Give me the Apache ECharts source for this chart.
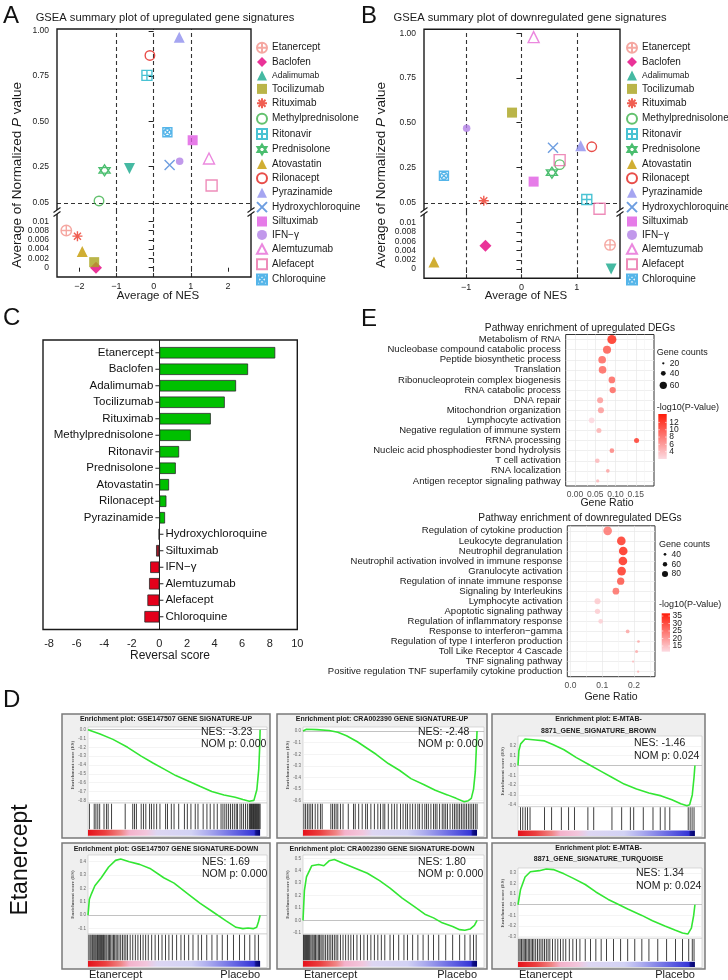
<!DOCTYPE html>
<html>
<head>
<meta charset="utf-8">
<title>Drug reversal summary</title>
<script src="https://cdn.jsdelivr.net/npm/echarts@6.0.0/dist/echarts.min.js"></script>
<style>
  html, body { margin: 0; padding: 0; background: #fff; }
  #main { width: 728px; height: 980px; }
</style>
</head>
<body>
<div id="main"></div>
<script>
var FONT = '"Liberation Sans", Arial, sans-serif';

// ---------------- data ----------------
var drugs = ['Etanercept', 'Baclofen', 'Adalimumab', 'Tocilizumab', 'Rituximab', 'Methylprednisolone',
  'Ritonavir', 'Prednisolone', 'Atovastatin', 'Rilonacept', 'Pyrazinamide', 'Hydroxychloroquine',
  'Siltuximab', 'IFN\u2212\u03b3', 'Alemtuzumab', 'Alefacept', 'Chloroquine'];

// A: [drug, average NES, average normalized p]
var upPoints = [
  ['Etanercept', -2.35, 0.008], ['Baclofen', -1.55, 0], ['Adalimumab', -0.65, 0.24],
  ['Tocilizumab', -1.6, 0.0012], ['Rituximab', -2.05, 0.0068], ['Methylprednisolone', -1.47, 0.061],
  ['Ritonavir', -0.18, 0.754], ['Prednisolone', -1.32, 0.23], ['Atovastatin', -1.92, 0.0035],
  ['Rilonacept', -0.1, 0.864], ['Pyrazinamide', 0.69, 0.964], ['Hydroxychloroquine', 0.43, 0.26],
  ['Siltuximab', 1.05, 0.396], ['IFN\u2212\u03b3', 0.7, 0.28], ['Alemtuzumab', 1.49, 0.295],
  ['Alefacept', 1.56, 0.146], ['Chloroquine', 0.37, 0.44]
];
// B
var downPoints = [
  ['Etanercept', 1.6, 0.0052], ['Baclofen', -0.65, 0.005], ['Adalimumab', 1.62, 0],
  ['Tocilizumab', -0.17, 0.556], ['Rituximab', -0.68, 0.063], ['Methylprednisolone', 0.69, 0.265],
  ['Ritonavir', 1.18, 0.07], ['Prednisolone', 0.55, 0.22], ['Atovastatin', -1.58, 0.0015],
  ['Rilonacept', 1.27, 0.365], ['Pyrazinamide', 1.07, 0.37], ['Hydroxychloroquine', 0.57, 0.36],
  ['Siltuximab', 0.22, 0.17], ['IFN\u2212\u03b3', -0.99, 0.468], ['Alemtuzumab', 0.22, 0.978],
  ['Alefacept', 0.69, 0.29], ['Alefacept', 1.41, 0.018], ['Chloroquine', -1.4, 0.203]
];
var upYTicks = [0.05, 0.25, 0.5, 0.75, 1];
var lowYTicks = [0, 0.002, 0.004, 0.006, 0.008, 0.01];
var upXTicks = [-2, -1, 0, 1, 2];
var downXTicks = [-1, 0, 1];
var nesCutoffs = [-1, 0, 1];
var pCutoff = 0.05;

// C
var reversalScore = [8.4, 6.43, 5.56, 4.74, 3.73, 2.28, 1.43, 1.19, 0.7, 0.51, 0.41, -0.05, -0.24, -0.67, -0.75, -0.87, -1.09];
var reversalTicks = [-8, -6, -4, -2, 0, 2, 4, 6, 8, 10];

// E
var upPathways = ['Metabolism of RNA', 'Nucleobase compound catabolic process', 'Peptide biosynthetic process',
  'Translation', 'Ribonucleoprotein complex biogenesis', 'RNA catabolic process', 'DNA repair',
  'Mitochondrion organization', 'Lymphocyte activation', 'Negative regulation of immune system',
  'RRNA processing', 'Nucleic acid phosphodiester bond hydrolysis', 'T cell activation',
  'RNA localization', 'Antigen receptor signaling pathway'];
var upRatio = [0.091, 0.079, 0.067, 0.068, 0.091, 0.093, 0.062, 0.064, 0.041, 0.059, 0.152, 0.091, 0.055, 0.081, 0.056];
var upCount = [74, 66, 63, 63, 55, 52, 50, 50, 47, 42, 42, 39, 39, 31, 28];
var upLogP = [14, 11, 10, 10, 10, 10, 6.5, 6.5, 2.3, 5, 13, 8, 4.5, 6, 4.5];
var upRatioTicks = [0, 0.05, 0.1, 0.15];
var upCountKeys = [20, 40, 60];
var upLogPTicks = [4, 6, 8, 10, 12];

var downPathways = ['Regulation of cytokine production', 'Leukocyte degranulation', 'Neutrophil degranulation',
  'Neutrophil activation involved in immune response', 'Granulocyte activation',
  'Regulation of innate immune response', 'Signaling by Interleukins', 'Lymphocyte activation',
  'Apoptotic signaling pathway', 'Regulation of inflammatory response', 'Response to interferon\u2212gamma',
  'Regulation of type I interferon production', 'Toll Like Receptor 4 Cascade', 'TNF signaling pathway',
  'Positive regulation TNF superfamily cytokine production'];
var downRatio = [0.117, 0.16, 0.166, 0.165, 0.161, 0.158, 0.143, 0.085, 0.085, 0.095, 0.18, 0.214, 0.208, 0.197, 0.213];
var downCount = [110, 110, 110, 110, 110, 94, 87, 79, 71, 63, 52, 40, 44, 35, 35];
var downLogP = [26, 35, 36.5, 36, 35, 31, 27, 14, 13.5, 13, 19, 19, 18, 16, 17];
var downRatioTicks = [0, 0.1, 0.2];
var downCountKeys = [40, 60, 80];
var downLogPTicks = [15, 20, 25, 30, 35];

// D
var gseaTitles = [
  ['Enrichment plot: GSE147507 GENE SIGNATURE-UP'],
  ['Enrichment plot: CRA002390 GENE SIGNATURE-UP'],
  ['Enrichment plot: E-MTAB-', '8871_GENE_SIGNATURE_BROWN'],
  ['Enrichment plot: GSE147507 GENE SIGNATURE-DOWN'],
  ['Enrichment plot: CRA002390 GENE SIGNATURE-DOWN'],
  ['Enrichment plot: E-MTAB-', '8871_GENE_SIGNATURE_TURQUOISE']
];
var gseaNES = [-3.23, -2.48, -1.46, 1.69, 1.80, 1.34];
var gseaNomP = [0, 0, 0.024, 0, 0, 0.024];
var esTicks = [
  [0, -0.1, -0.2, -0.3, -0.4, -0.5, -0.6, -0.7, -0.8],
  [0, -0.1, -0.2, -0.3, -0.4, -0.5, -0.6],
  [0.2, 0.1, 0, -0.1, -0.2, -0.3, -0.4],
  [0.4, 0.3, 0.2, 0.1, 0, -0.1],
  [0.5, 0.4, 0.3, 0.2, 0.1, 0, -0.1],
  [0.3, 0.2, 0.1, 0, -0.1, -0.2, -0.3]
];
// running enrichment score: [rank fraction, ES]
var es1 = [[0, 0], [0.07, -0.05], [0.145, -0.11], [0.23, -0.2], [0.309, -0.3], [0.38, -0.38], [0.445, -0.45],
  [0.51, -0.52], [0.582, -0.58], [0.65, -0.64], [0.719, -0.7], [0.79, -0.74], [0.855, -0.765], [0.9, -0.79],
  [0.937, -0.81], [0.964, -0.8], [0.981, -0.68], [0.992, -0.45], [0.997, -0.22], [1, 0]];
var es2 = [[0, 0], [0.02, 0.015], [0.08, 0.012], [0.15, 0.005], [0.2, -0.01], [0.25, -0.04], [0.31, -0.09],
  [0.37, -0.15], [0.42, -0.2], [0.49, -0.28], [0.556, -0.34], [0.62, -0.41], [0.693, -0.46], [0.76, -0.51],
  [0.83, -0.55], [0.88, -0.58], [0.926, -0.61], [0.95, -0.6], [0.967, -0.58], [0.98, -0.5], [0.99, -0.35],
  [0.996, -0.15], [1, 0]];
var es3 = [[0, 0], [0.005, 0.15], [0.015, 0.22], [0.04, 0.27], [0.1, 0.26], [0.15, 0.25], [0.2, 0.21],
  [0.26, 0.16], [0.33, 0.08], [0.4, 0.01], [0.47, -0.06], [0.53, -0.12], [0.6, -0.19], [0.67, -0.24],
  [0.74, -0.28], [0.81, -0.31], [0.87, -0.35], [0.92, -0.39], [0.955, -0.41], [0.97, -0.4], [0.985, -0.3],
  [0.995, -0.12], [1, 0]];
var es4 = [[0, 0], [0.008, 0.12], [0.02, 0.16], [0.04, 0.22], [0.077, 0.28], [0.12, 0.36], [0.16, 0.41],
  [0.19, 0.42], [0.24, 0.4], [0.3, 0.38], [0.36, 0.35], [0.44, 0.28], [0.5, 0.24], [0.58, 0.16], [0.65, 0.09],
  [0.72, 0.03], [0.8, -0.04], [0.86, -0.09], [0.9, -0.1], [0.93, -0.095], [0.96, -0.1], [0.98, -0.09],
  [0.99, -0.05], [1, 0]];
var es5 = [[0, 0], [0.008, 0.24], [0.02, 0.35], [0.05, 0.44], [0.09, 0.45], [0.12, 0.44], [0.15, 0.48],
  [0.18, 0.49], [0.23, 0.46], [0.3, 0.42], [0.37, 0.38], [0.44, 0.32], [0.5, 0.26], [0.57, 0.18], [0.64, 0.11],
  [0.7, 0.05], [0.75, 0.02], [0.8, -0.02], [0.86, -0.05], [0.9, -0.075], [0.93, -0.08], [0.96, -0.07],
  [0.985, -0.04], [1, 0]];
var es6 = [[0, 0], [0.014, 0.14], [0.04, 0.26], [0.07, 0.31], [0.12, 0.32], [0.16, 0.335], [0.2, 0.33],
  [0.26, 0.29], [0.31, 0.25], [0.38, 0.19], [0.44, 0.12], [0.51, 0.05], [0.56, 0.01], [0.62, -0.04],
  [0.7, -0.1], [0.76, -0.15], [0.83, -0.2], [0.89, -0.24], [0.93, -0.265], [0.96, -0.275], [0.98, -0.22],
  [0.993, -0.1], [1, 0]];
// gene-set hit positions (rank fraction)
var hits1 = [0.008, 0.036, 0.046, 0.057, 0.068, 0.093, 0.107, 0.117, 0.137, 0.216, 0.26, 0.27, 0.281, 0.309,
  0.322, 0.336, 0.358, 0.369, 0.383, 0.399, 0.418, 0.451, 0.462, 0.484, 0.5, 0.527, 0.56, 0.577, 0.598, 0.623,
  0.639, 0.669, 0.691, 0.71, 0.732, 0.751, 0.773, 0.784, 0.795, 0.806, 0.817, 0.828, 0.839, 0.85, 0.861, 0.869,
  0.883, 0.893, 0.904, 0.915, 0.926, 0.937, 0.941, 0.945, 0.95, 0.954, 0.958, 0.962, 0.966, 0.97, 0.974, 0.978,
  0.982, 0.986, 0.99, 0.995, 1];
var hits2 = [0.005, 0.015, 0.025, 0.035, 0.045, 0.055, 0.07, 0.085, 0.1, 0.11, 0.16, 0.17, 0.18, 0.19, 0.2,
  0.215, 0.23, 0.26, 0.29, 0.3, 0.32, 0.34, 0.36, 0.37, 0.39, 0.41, 0.43, 0.445, 0.46, 0.47, 0.49, 0.51, 0.525,
  0.54, 0.56, 0.575, 0.59, 0.6, 0.615, 0.63, 0.645, 0.66, 0.67, 0.685, 0.7, 0.71, 0.72, 0.735, 0.75, 0.76, 0.77,
  0.785, 0.8, 0.81, 0.82, 0.83, 0.845, 0.86, 0.87, 0.88, 0.89, 0.9, 0.91, 0.92, 0.93, 0.94, 0.95, 0.96, 0.97,
  0.98, 0.99, 1];
var hits3 = [0.014, 0.027, 0.041, 0.054, 0.068, 0.15, 0.19, 0.245, 0.286, 0.319, 0.395, 0.428, 0.531, 0.586,
  0.635, 0.654, 0.708, 0.763, 0.804, 0.831, 0.858, 0.962, 0.973, 0.984, 0.995];
var hits4 = [0.005, 0.012, 0.018, 0.025, 0.03, 0.036, 0.042, 0.048, 0.055, 0.06, 0.066, 0.072, 0.078, 0.085,
  0.09, 0.097, 0.104, 0.11, 0.118, 0.125, 0.132, 0.14, 0.148, 0.155, 0.163, 0.17, 0.18, 0.19, 0.2, 0.21, 0.22,
  0.23, 0.245, 0.26, 0.275, 0.29, 0.305, 0.32, 0.335, 0.35, 0.37, 0.39, 0.41, 0.43, 0.45, 0.47, 0.49, 0.515,
  0.54, 0.56, 0.585, 0.61, 0.64, 0.66, 0.69, 0.72, 0.75, 0.78, 0.81, 0.845, 0.88, 0.91, 0.94, 0.97, 0.99];
var hits5 = [0.003, 0.008, 0.014, 0.02, 0.026, 0.032, 0.038, 0.045, 0.052, 0.058, 0.065, 0.072, 0.08, 0.088,
  0.095, 0.103, 0.11, 0.12, 0.13, 0.14, 0.15, 0.16, 0.17, 0.18, 0.19, 0.2, 0.215, 0.23, 0.245, 0.26, 0.275,
  0.29, 0.31, 0.33, 0.35, 0.37, 0.39, 0.41, 0.43, 0.45, 0.47, 0.5, 0.52, 0.55, 0.58, 0.6, 0.63, 0.66, 0.69,
  0.72, 0.75, 0.78, 0.82, 0.86, 0.9, 0.93, 0.96, 0.98, 0.995];
var hits6 = [0.005, 0.012, 0.02, 0.028, 0.035, 0.042, 0.05, 0.058, 0.066, 0.074, 0.082, 0.09, 0.1, 0.11, 0.12,
  0.13, 0.14, 0.15, 0.16, 0.17, 0.18, 0.195, 0.21, 0.225, 0.24, 0.255, 0.27, 0.29, 0.31, 0.33, 0.35, 0.38,
  0.41, 0.44, 0.47, 0.5, 0.54, 0.58, 0.62, 0.66, 0.7, 0.74, 0.79, 0.84, 0.89, 0.93, 0.965, 0.985, 0.995];
var esCurves = [es1, es2, es3, es4, es5, es6];
var esHits = [hits1, hits2, hits3, hits4, hits5, hits6];

// ---------------- styles / layout ----------------
var P = {
  circlePlus: 'path://M1,10A9,9,0,1,1,19,10A9,9,0,1,1,1,10ZM10,1L10,19M1,10L19,10',
  circle: 'path://M1,10A9,9,0,1,1,19,10A9,9,0,1,1,1,10Z',
  asterisk: 'path://M10,0L10,20M0,10L20,10M3,3L17,17M17,3L3,17',
  squarePlus: 'path://M1,1L19,1L19,19L1,19ZM10,1L10,19M1,10L19,10',
  star: 'path://M10,0L19,15L1,15ZM10,20L1,5L19,5Z',
  cross: 'path://M1,1L19,19M19,1L1,19',
  triangle: 'path://M10,1L19,18L1,18Z',
  square: 'path://M1,1L19,1L19,19L1,19Z',
  squareX: 'path://M1,1L19,1L19,19L1,19ZM3,10A7,7,0,1,1,17,10A7,7,0,1,1,3,10ZM5,5L15,15M15,5L5,15'
};
var drugStyle = {
  'Etanercept': { symbol: P.circlePlus, color: '#F39189', size: 10.5, hollow: true },
  'Baclofen': { symbol: 'diamond', color: '#E5007E', size: 12 },
  'Adalimumab': { symbol: 'triangle', rotate: 180, color: '#17A88B', size: 11 },
  'Tocilizumab': { symbol: 'rect', color: '#A9A21C', size: 10 },
  'Rituximab': { symbol: P.asterisk, color: '#EC3525', size: 10, hollow: true },
  'Methylprednisolone': { symbol: P.circle, color: '#3CB24A', size: 9.5, hollow: true },
  'Ritonavir': { symbol: P.squarePlus, color: '#1BB3C8', size: 10, hollow: true },
  'Prednisolone': { symbol: P.star, color: '#1EAE4B', size: 11, hollow: true },
  'Atovastatin': { symbol: 'triangle', color: '#C49A00', size: 11 },
  'Rilonacept': { symbol: P.circle, color: '#E2211C', size: 9.5, hollow: true },
  'Pyrazinamide': { symbol: 'triangle', color: '#8F8FEE', size: 11 },
  'Hydroxychloroquine': { symbol: P.cross, color: '#4A86D8', size: 10, hollow: true },
  'Siltuximab': { symbol: 'rect', color: '#E05BE2', size: 10 },
  'IFN\u2212\u03b3': { symbol: 'circle', color: '#B27FE6', size: 7.5 },
  'Alemtuzumab': { symbol: P.triangle, color: '#E66AD6', size: 11, hollow: true },
  'Alefacept': { symbol: P.square, color: '#EA6FA8', size: 11, hollow: true },
  'Chloroquine': { symbol: P.squareX, color: '#2BA2E3', size: 9, hollow: true }
};

var grid = [], xAxis = [], yAxis = [], series = [], graphic = [], visualMap = [];

function cart(g, xa, ya) {
  g.outerBoundsMode = 'none';
  grid.push(g);
  var gi = grid.length - 1;
  xa.gridIndex = gi; ya.gridIndex = gi;
  xAxis.push(xa); yAxis.push(ya);
  return { x: xAxis.length - 1, y: yAxis.length - 1 };
}
function text(x, y, s, o) {
  o = o || {};
  graphic.push({
    type: 'text', x: x, y: y, rotation: o.rot || 0, silent: true, z: 50,
    style: {
      text: s, fill: o.color || '#111', fontSize: o.size || 10, fontFamily: o.family || FONT,
      fontWeight: o.weight || 'normal', align: o.align || 'left', verticalAlign: o.va || 'middle',
      textAlign: o.align || 'left', textVerticalAlign: o.va || 'middle', rich: o.rich
    }
  });
}
function seg(x1, y1, x2, y2, color, w, z) {
  graphic.push({ type: 'line', silent: true, z: z || 12, shape: { x1: x1, y1: y1, x2: x2, y2: y2 },
    style: { stroke: color, lineWidth: w } });
}
function box(x, y, w, h, style, z) {
  graphic.push({ type: 'rect', silent: true, z: z, shape: { x: x, y: y, width: w, height: h }, style: style });
}
function guideSeries(c, lines, style) {
  series.push({ type: 'line', xAxisIndex: c.x, yAxisIndex: c.y, data: [], silent: true,
    markLine: { silent: true, z: 1, symbol: 'none', animation: false, label: { show: false },
      lineStyle: style, data: lines } });
}

// ---------------- A / B ----------------
function drugSeries(name, c, pts) {
  var st = drugStyle[name];
  return {
    type: 'scatter', name: name, xAxisIndex: c.x, yAxisIndex: c.y, data: pts, z: 5, silent: true,
    symbol: st.symbol, symbolRotate: st.rotate || 0, symbolSize: st.size,
    itemStyle: st.hollow ? { color: 'transparent', borderColor: st.color, borderWidth: 1.4 }
                         : { color: st.color, borderWidth: 0 }
  };
}
function summaryPanel(L, points, xTicks) {
  var axCol = '#222';
  var up = cart({ left: L.left, top: L.top, width: L.width, height: L.breakY - L.top },
    { type: 'value', min: L.xMin, max: L.xMax, show: false },
    { type: 'value', min: 0, max: L.upMax, axisLine: { show: false }, splitLine: { show: false },
      axisTick: { length: 5, customValues: upYTicks, lineStyle: { color: axCol } },
      axisLabel: { customValues: upYTicks, margin: 8, fontSize: 8.5, color: axCol, fontFamily: FONT,
        formatter: function (v) { return v.toFixed(2); } } });
  var low = cart({ left: L.left, top: L.breakY, width: L.width, height: L.bottom - L.breakY },
    { type: 'value', min: L.xMin, max: L.xMax, axisLine: { show: false }, splitLine: { show: false },
      axisTick: { length: 4, customValues: xTicks, lineStyle: { color: axCol } },
      axisLabel: { customValues: xTicks, margin: 5, fontSize: 9, color: axCol, fontFamily: FONT,
        formatter: function (v) { return v < 0 ? '\u2212' + (-v) : String(v); } } },
    { type: 'value', min: L.lowMin, max: L.lowMax, axisLine: { show: false }, splitLine: { show: false },
      axisTick: { length: 5, customValues: lowYTicks, lineStyle: { color: axCol } },
      axisLabel: { customValues: lowYTicks, margin: 8, fontSize: 8.5, color: axCol, fontFamily: FONT,
        formatter: function (v) { return String(+v.toFixed(3)); } } });
  var dash = { type: [4, 3], color: '#333', width: 1.1 };
  var vl = nesCutoffs.map(function (v) { return { xAxis: v }; });
  guideSeries(up, vl.concat([{ yAxis: pCutoff }]), dash);
  guideSeries(low, vl, dash);
  drugs.forEach(function (d) {
    var hi = [], lo = [];
    points.forEach(function (p) {
      if (p[0] === d) (p[2] > 0.012 ? hi : lo).push([p[1], p[2]]);
    });
    if (hi.length) series.push(drugSeries(d, up, hi));
    if (lo.length) series.push(drugSeries(d, low, lo));
  });
  // frame with axis break marks
  box(L.left, L.top, L.width, L.bottom - L.top, { fill: 'none', stroke: '#1a1a1a', lineWidth: 1.4 }, 10);
  [L.left, L.left + L.width].forEach(function (x) {
    box(x - 2, L.breakY - 2, 4, 4, { fill: '#fff' }, 11);
    seg(x - 3.5, L.breakY + 0.5, x + 3.5, L.breakY - 4.5, '#1a1a1a', 1.1, 12);
    seg(x - 3.5, L.breakY + 4.5, x + 3.5, L.breakY - 0.5, '#1a1a1a', 1.1, 12);
  });
  text(L.titleX, 18, L.title, { size: 11.2, align: 'center', color: '#1a1a1a' });
  text(L.left + L.width / 2 + 4, 295.5, 'Average of NES', { size: 11.5, align: 'center', color: '#1a1a1a' });
  text(L.yNameX, 175, 'Average of Normalized {i|P} value', { size: 13.5, align: 'center', rot: Math.PI / 2,
    color: '#1a1a1a', rich: { i: { fontStyle: 'italic', fontSize: 13.5, fontFamily: FONT, fill: '#1a1a1a' } } });
}
summaryPanel({ left: 57, top: 29, width: 194, breakY: 212, bottom: 277, xMin: -2.6, xMax: 2.62,
  upMax: 1.01, lowMin: -0.002, lowMax: 0.012, yNameX: 17, titleX: 165,
  title: 'GSEA summary plot of upregulated gene signatures' }, upPoints, upXTicks);
summaryPanel({ left: 424, top: 29.3, width: 196, breakY: 212, bottom: 278.3, xMin: -1.76, xMax: 1.78,
  upMax: 1.022, lowMin: -0.002, lowMax: 0.0123, yNameX: 381, titleX: 530,
  title: 'GSEA summary plot of downregulated gene signatures' }, downPoints, downXTicks);

function legendFor(left) {
  return {
    data: drugs, left: left, top: 41.7, orient: 'vertical', padding: 0, itemWidth: 10, itemHeight: 10,
    itemGap: 3.4, selectedMode: false,
    textStyle: { fontSize: 10, color: '#1a1a1a', fontFamily: FONT, rich: { s: { fontSize: 8.5, color: '#1a1a1a' } } },
    formatter: function (n) { return n === 'Adalimumab' ? '{s|' + n + '}' : n; }
  };
}

// ---------------- C ----------------
var cRect = { left: 43, top: 340, width: 254.3, bottom: 629.5 };
var cBars = cart({ left: cRect.left, top: 344.5, width: cRect.width, height: 280.5 },
  { type: 'value', min: -8.44, max: 10, offset: 5, axisLine: { show: false }, splitLine: { show: false },
    axisTick: { length: 4, customValues: reversalTicks, lineStyle: { color: '#222' } },
    axisLabel: { customValues: reversalTicks, margin: 8, fontSize: 11, color: '#222', fontFamily: FONT,
      formatter: function (v) { return String(v); } } },
  { type: 'category', inverse: true, data: drugs, show: false });
var cZero = cart({ left: cRect.left, top: cRect.top, width: cRect.width, height: cRect.bottom - cRect.top },
  { type: 'value', min: -8.44, max: 10, show: false }, { type: 'value', min: 0, max: 1, show: false });
guideSeries(cZero, [{ xAxis: 0 }], { type: 'solid', color: '#222', width: 1 });
series.push({
  type: 'bar', xAxisIndex: cBars.x, yAxisIndex: cBars.y, barWidth: 11.5, silent: true, z: 3,
  itemStyle: { borderColor: '#2a2a2a', borderWidth: 0.8 },
  label: { show: true, rich: {
    n: { fontSize: 11.5, color: '#111', fontFamily: FONT, padding: [0, 2, 0, 2] },
    t: { width: 4, height: 1, backgroundColor: '#222' } } },
  data: reversalScore.map(function (v, i) {
    var col = v >= 0 ? '#00C000' : (v > -0.1 ? '#444' : (v > -0.3 ? '#9C1A2A' : '#E4001B'));
    return { value: v, itemStyle: { color: col },
      label: { position: v >= 0 ? 'left' : 'right', distance: 0,
        formatter: v >= 0 ? '{n|' + drugs[i] + '}{t|}' : '{t|}{n|' + drugs[i] + '}' } };
  })
});
box(cRect.left, cRect.top, cRect.width, cRect.bottom - cRect.top, { fill: 'none', stroke: '#1a1a1a', lineWidth: 1.4 }, 10);
text(170, 655.5, 'Reversal score', { size: 12, align: 'center', color: '#1a1a1a' });

// ---------------- E ----------------
function dotPanel(o) {
  var c = cart({ left: o.left, top: o.top, width: o.width, height: o.height, show: true,
      backgroundColor: '#fff', borderColor: '#333', borderWidth: 1 },
    { type: 'value', min: o.xMin, max: o.xMax, axisLine: { show: false }, splitLine: { show: false },
      axisTick: { length: 3, customValues: o.xTicks, lineStyle: { color: '#333' } },
      axisLabel: { customValues: o.xTicks, margin: 4, fontSize: 8.5, color: '#4d4d4d', fontFamily: FONT,
        formatter: function (v) { return v.toFixed(o.dec); } } },
    { type: 'category', inverse: true, data: o.paths, axisLine: { show: false }, splitLine: { show: false },
      axisTick: { length: 3, alignWithLabel: true, interval: 0, lineStyle: { color: '#333' } },
      axisLabel: { interval: 0, margin: 5, fontSize: 9.5, color: '#1a1a1a', fontFamily: FONT } });
  var lines = o.paths.map(function (p) { return { yAxis: p }; })
    .concat(o.xTicks.map(function (v) { return { xAxis: v }; }));
  guideSeries(c, lines, { type: 'solid', color: '#E8E8E8', width: 0.7 });
  var minors = [];
  for (var i = 0; i < o.xTicks.length; i++) {
    var step = o.xTicks[1] - o.xTicks[0];
    if (o.xTicks[i] + step / 2 < o.xMax) minors.push({ xAxis: o.xTicks[i] + step / 2 });
  }
  guideSeries(c, minors, { type: 'solid', color: '#F3F3F3', width: 0.6 });
  series.push({
    type: 'scatter', xAxisIndex: c.x, yAxisIndex: c.y, silent: true, z: 4,
    data: o.paths.map(function (p, i) { return [o.ratio[i], p, o.count[i], o.logp[i]]; }),
    symbolSize: function (d) { return o.size(d[2]); }
  });
  visualMap.push({ type: 'continuous', show: false, seriesIndex: series.length - 1, dimension: 3,
    min: o.cMin, max: o.cMax, inRange: { color: [o.lowCol, o.highCol] } });

  text(580, o.titleY, o.title, { size: 10.2, align: 'center', color: '#1a1a1a' });
  text(o.ratioX, o.ratioY, 'Gene Ratio', { size: 10.5, align: 'center', color: '#1a1a1a' });
  // size legend
  text(o.cntX, o.cntTitleY, 'Gene counts', { size: 9, color: '#1a1a1a' });
  o.countKeys.forEach(function (k, i) {
    var d = o.size(k);
    graphic.push({ type: 'circle', silent: true, z: 20, shape: { cx: o.cntDotX, cy: o.cntY[i], r: d / 2 },
      style: { fill: '#111' } });
    text(o.cntDotX + 6.5, o.cntY[i], String(k), { size: 8.5, color: '#1a1a1a' });
  });
  // colour bar
  text(o.cntX, o.cbTitleY, '-log10(P-Value)', { size: 9, color: '#1a1a1a' });
  box(o.cbX, o.cbY, o.cbW, o.cbH, { fill: { type: 'linear', x: 0, y: 0, x2: 0, y2: 1,
    colorStops: [{ offset: 0, color: o.highCol }, { offset: 1, color: o.lowCol }] } }, 20);
  o.cbTicks.forEach(function (t) {
    var y = o.cbY + o.cbH * (o.cMax - t) / (o.cMax - o.cMin);
    seg(o.cbX, y, o.cbX + 1.6, y, '#fff', 0.6, 21);
    seg(o.cbX + o.cbW - 1.6, y, o.cbX + o.cbW, y, '#fff', 0.6, 21);
    text(o.cbX + o.cbW + 2.5, y, String(t), { size: 8.5, color: '#1a1a1a' });
  });
}
dotPanel({
  left: 565.7, top: 334.5, width: 88.3, height: 151.5, xMin: -0.023, xMax: 0.195, xTicks: upRatioTicks, dec: 2,
  paths: upPathways, ratio: upRatio, count: upCount, logp: upLogP,
  size: function (c) { return Math.max(1.5, 0.125 * c - 0.2); },
  cMin: 2, cMax: 14.3, lowCol: '#FCDAE1', highCol: '#FF1C0A',
  title: 'Pathway enrichment of upregulated DEGs', titleY: 328.5, ratioX: 607, ratioY: 503.5,
  cntX: 656.7, cntTitleY: 352.3, cntDotX: 663.3, cntY: [363.3, 373.3, 385.3], countKeys: upCountKeys,
  cbTitleY: 407.7, cbX: 658.3, cbY: 414, cbW: 8.4, cbH: 45, cbTicks: upLogPTicks
});
dotPanel({
  left: 567.3, top: 525.8, width: 87.7, height: 150.9, xMin: -0.01, xMax: 0.266, xTicks: downRatioTicks, dec: 1,
  paths: downPathways, ratio: downRatio, count: downCount, logp: downLogP,
  size: function (c) { return Math.max(1.5, 0.085 * c - 0.7); },
  cMin: 11.2, cMax: 36.8, lowCol: '#FCDAE1', highCol: '#FF1C0A',
  title: 'Pathway enrichment of downregulated DEGs', titleY: 518.3, ratioX: 611, ratioY: 697.5,
  cntX: 659, cntTitleY: 545, cntDotX: 665, cntY: [554.3, 564.3, 574], countKeys: downCountKeys,
  cbTitleY: 604.3, cbX: 661.7, cbY: 613.3, cbW: 8.3, cbH: 38.4, cbTicks: downLogPTicks
});

// ---------------- D ----------------
var gseaBoxes = [
  { x0: 62, y0: 714, x1: 270, y1: 838, titleY: [719.5], esTop: 727, esBottom: 803, esMin: -0.83, esMax: 0.03, nesX: 201, nesY: 732 },
  { x0: 277, y0: 714, x1: 487, y1: 838, titleY: [719.5], esTop: 727, esBottom: 803, esMin: -0.62, esMax: 0.035, nesX: 418, nesY: 732 },
  { x0: 492, y0: 714, x1: 705, y1: 838, titleY: [719, 730.7], esTop: 736, esBottom: 806.7, esMin: -0.42, esMax: 0.3, nesX: 634, nesY: 743.3 },
  { x0: 62, y0: 843, x1: 270, y1: 969, titleY: [849], esTop: 855, esBottom: 934, esMin: -0.14, esMax: 0.45, nesX: 202, nesY: 861.7 },
  { x0: 277, y0: 843, x1: 487, y1: 969, titleY: [849], esTop: 855, esBottom: 934, esMin: -0.11, esMax: 0.527, nesX: 418, nesY: 861.7 },
  { x0: 492, y0: 843, x1: 705, y1: 969, titleY: [848.3, 859], esTop: 868, esBottom: 938.3, esMin: -0.315, esMax: 0.345, nesX: 636, nesY: 873.3 }
];
var stripGradient = { type: 'linear', x: 0, y: 0, x2: 1, y2: 0, colorStops: [
  { offset: 0, color: '#E5121B' }, { offset: 0.1, color: '#EB4040' }, { offset: 0.19, color: '#F08585' },
  { offset: 0.24, color: '#F4B2CB' }, { offset: 0.34, color: '#F2C6DC' }, { offset: 0.4, color: '#DDD6F2' },
  { offset: 0.6, color: '#D2D2F4' }, { offset: 0.7, color: '#ABABEE' }, { offset: 0.84, color: '#6B6BE4' },
  { offset: 0.965, color: '#3535D6' }, { offset: 0.975, color: '#12128C' }, { offset: 1, color: '#00006E' }] };

gseaBoxes.forEach(function (L, k) {
  box(L.x0, L.y0, L.x1 - L.x0, L.y1 - L.y0, { fill: '#EFEFEF', stroke: '#7A7A7A', lineWidth: 1.5 }, -1);
  var left = L.x0 + 26, width = L.x1 - L.x0 - 29, barBottom = L.y1 - 1.5;
  var es = cart({ left: left, top: L.esTop, width: width, height: L.esBottom - L.esTop, show: true,
      backgroundColor: '#fff', borderColor: '#C4C4C4', borderWidth: 0.6 },
    { type: 'value', min: 0, max: 1.04, show: false },
    { type: 'value', min: L.esMin, max: L.esMax, axisLine: { show: false }, axisTick: { show: false },
      splitLine: { show: false },
      axisLabel: { customValues: esTicks[k], margin: 2, fontSize: 4.5, color: '#666', fontFamily: FONT,
        formatter: function (v) { return Math.abs(v) < 1e-9 ? '0.0' : v.toFixed(1); } } });
  guideSeries(es, esTicks[k].map(function (v) { return { yAxis: v }; }), { type: 'solid', color: '#EDEDED', width: 0.6 });
  guideSeries(es, [{ yAxis: 0 }], { type: 'solid', color: '#B5B5B5', width: 0.8 });
  series.push({ type: 'line', xAxisIndex: es.x, yAxisIndex: es.y, data: esCurves[k], symbol: 'none',
    silent: true, z: 4, lineStyle: { color: '#33E633', width: 1.6 } });

  var bc = cart({ left: left, top: L.esBottom, width: width, height: barBottom - L.esBottom, show: true,
      backgroundColor: '#fff', borderColor: '#C4C4C4', borderWidth: 0.6 },
    { type: 'value', min: 0, max: 1.04, show: false },
    { type: 'value', min: 0, max: 1, show: false });
  var H = barBottom - L.esBottom;
  series.push({ type: 'scatter', xAxisIndex: bc.x, yAxisIndex: bc.y, silent: true, z: 4,
    data: esHits[k].map(function (h) { return [h, 0.6]; }),
    symbol: 'rect', symbolSize: [0.9, H * 0.76], itemStyle: { color: '#151515', opacity: 0.9 },
    markArea: { silent: true, z: 1, itemStyle: { color: stripGradient },
      data: [[{ xAxis: 0, yAxis: 0.02 }, { xAxis: 1, yAxis: 0.2 }]] } });

  gseaTitles[k].forEach(function (t, i) {
    text((L.x0 + L.x1) / 2, L.titleY[i], t, { size: 7, weight: 'bold', align: 'center', color: '#1a1a1a' });
  });
  text(L.nesX, L.nesY, 'NES: ' + gseaNES[k].toFixed(2), { size: 10.5, color: '#1a1a1a' });
  text(L.nesX, L.nesY + 12.5, 'NOM p: ' + gseaNomP[k].toFixed(3), { size: 10.5, color: '#1a1a1a' });
  text(L.x0 + 11, (L.esTop + L.esBottom) / 2, 'Enrichment score (ES)', { size: 5, weight: 'bold',
    align: 'center', rot: Math.PI / 2, color: '#555', family: '"Liberation Serif", serif' });
  if (k >= 3) {
    text(left + 1, 974.5, 'Etanercept', { size: 11, color: '#1a1a1a' });
    text(left + width / 1.04, 974.5, 'Placebo', { size: 11, align: 'right', color: '#1a1a1a' });
  }
});

// panel letters and side label
text(3, 16, 'A', { size: 24, color: '#111' });
text(361, 16, 'B', { size: 24, color: '#111' });
text(3, 318, 'C', { size: 24, color: '#111' });
text(361, 319, 'E', { size: 24, color: '#111' });
text(3, 700, 'D', { size: 24, color: '#111' });
text(21, 860, 'Etanercept', { size: 23, align: 'center', rot: Math.PI / 2, color: '#111' });

var chart = echarts.init(document.getElementById('main'));
chart.setOption({
  animation: false,
  backgroundColor: '#fff',
  textStyle: { fontFamily: FONT },
  grid: grid, xAxis: xAxis, yAxis: yAxis, series: series,
  legend: [legendFor(256), legendFor(626)],
  visualMap: visualMap,
  graphic: graphic
});
</script>
</body>
</html>
